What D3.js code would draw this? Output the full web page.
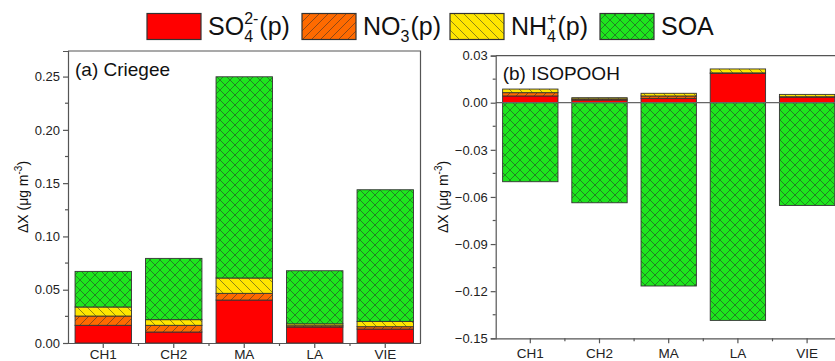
<!DOCTYPE html>
<html>
<head>
<meta charset="utf-8" />
<script src="https://d3js.org/d3.v7.min.js"></script>
<style>
  body { margin: 0; background: #fff; }
  svg { font-family: "Liberation Sans", Arial, sans-serif; }
</style>
</head>
<body>
<div id="chart"></div>
<script>
// categories and values
var sites = ["CH1", "CH2", "MA", "LA", "VIE"];

var criegeeSO4 = [0.0166, 0.0103, 0.0403, 0.0150, 0.0131];
var criegeeNO3 = [0.0087, 0.0063, 0.0063, 0.0012, 0.0022];
var criegeeNH4 = [0.0085, 0.0053, 0.0144, 0.0018, 0.0050];
var criegeeSOA = [0.0334, 0.0575, 0.1888, 0.0498, 0.1235];

var isoSO4 = [0.0043, 0.0017, 0.0028, 0.0187, 0.0036];
var isoNO3 = [0.0021, 0.0007, 0.0015, 0.0003, 0.0002];
var isoNH4 = [0.0023, 0.0008, 0.0017, 0.0025, 0.0015];
var isoSOA = [-0.0503, -0.0637, -0.1167, -0.1386, -0.0654];

var leftTicks = [0, 0.05, 0.10, 0.15, 0.20, 0.25];
var rightTicks = [0.03, 0, -0.03, -0.06, -0.09, -0.12, -0.15];

var species = [
  {key: "so4", fill: "#ff0000", main: "SO", sub: "4", sup: "2-"},
  {key: "no3", fill: "url(#hatchNO3)", main: "NO", sub: "3", sup: "-"},
  {key: "nh4", fill: "url(#hatchNH4)", main: "NH", sub: "4", sup: "+"},
  {key: "soa", fill: "url(#hatchSOA)", main: "SOA", sub: "", sup: ""}
];
// legend swatch left edges
var legendX = [147, 302, 450, 600];

var width = 835, height = 361;
var axisColor = "#555";

var svg = d3.select("#chart").append("svg")
    .attr("width", width)
    .attr("height", height);

// hatch patterns
var defs = svg.append("defs");
function hatch(id, bg, size, dirs) {
  var p = defs.append("pattern")
      .attr("id", id)
      .attr("patternUnits", "userSpaceOnUse")
      .attr("width", size).attr("height", size);
  p.append("rect").attr("width", size).attr("height", size).attr("fill", bg);
  var s = size;
  dirs.forEach(function(d) {
    var path = d == "/"
      ? "M0," + s + "L" + s + ",0M" + (-s / 2) + "," + (s / 2) + "L" + (s / 2) + "," + (-s / 2) + "M" + (s / 2) + "," + (3 * s / 2) + "L" + (3 * s / 2) + "," + (s / 2)
      : "M0,0L" + s + "," + s + "M" + (-s / 2) + "," + (s / 2) + "L" + (s / 2) + "," + (3 * s / 2) + "M" + (s / 2) + "," + (-s / 2) + "L" + (3 * s / 2) + "," + (s / 2);
    p.append("path").attr("d", path)
      .attr("stroke", "#2a2a2a").attr("stroke-width", 0.7)
      .attr("stroke-opacity", 0.75).attr("fill", "none");
  });
}
hatch("hatchNO3", "#ff6a00", 9, ["/"]);
hatch("hatchNH4", "#ffe600", 10, ["\\"]);
hatch("hatchSOA", "#1ee61e", 10, ["/", "\\"]);

// build stacks for one panel
function stacks(so4, no3, nh4, soa) {
  var out = [];
  sites.forEach(function(s, i) {
    var base = 0;
    [so4, no3, nh4].forEach(function(arr, k) {
      out.push({site: s, key: species[k].key, y0: base, y1: base + arr[i]});
      base += arr[i];
    });
    if (soa[i] >= 0) out.push({site: s, key: "soa", y0: base, y1: base + soa[i]});
    else out.push({site: s, key: "soa", y0: soa[i], y1: 0});
  });
  return out;
}

function panel(opt) {
  var g = svg.append("g");
  var x = d3.scaleBand().domain(sites)
      .range([opt.left, opt.left + opt.step * sites.length])
      .paddingInner(0.2).paddingOuter(0.1);
  var y = d3.scaleLinear().domain(opt.domain).range([opt.bottom, opt.top]);

  var fills = {};
  species.forEach(function(s) { fills[s.key] = s.fill; });

  // bars
  g.selectAll("rect.bar")
    .data(opt.data)
    .enter().append("rect")
      .attr("class", "bar")
      .attr("x", function(d) { return x(d.site); })
      .attr("width", x.bandwidth())
      .attr("y", function(d) { return y(d.y1); })
      .attr("height", function(d) { return Math.max(0, y(d.y0) - y(d.y1)); })
      .attr("fill", function(d) { return fills[d.key]; })
      .attr("stroke", "#333")
      .attr("stroke-width", 0.9);

  // zero line
  if (opt.domain[0] < 0) {
    g.append("line")
      .attr("x1", opt.left).attr("x2", width)
      .attr("y1", y(0)).attr("y2", y(0))
      .attr("stroke", "#666").attr("stroke-width", 1.2);
  }

  // frame (top and right)
  var right = opt.left + opt.step * sites.length;
  g.append("path")
    .attr("d", "M" + opt.left + "," + opt.top + "H" + right + "V" + opt.bottom)
    .attr("fill", "none").attr("stroke", axisColor).attr("stroke-width", 1.2);

  // y axis
  var yAxis = g.append("g")
    .attr("transform", "translate(" + opt.left + ",0)")
    .call(d3.axisLeft(y).tickValues(opt.ticks).tickFormat(d3.format(".2f")).tickSize(5).tickPadding(3));
  yAxis.select(".domain").attr("stroke", axisColor).attr("stroke-width", 1.2);
  yAxis.selectAll(".tick line").attr("stroke", axisColor).attr("stroke-width", 1.2);
  yAxis.selectAll("text").attr("font-size", 13).attr("fill", "#222")
    .attr("font-family", "Liberation Sans, Arial, sans-serif");
  g.selectAll(".yminor")
    .data(opt.minor.filter(function(v) { return v >= opt.domain[0] && v <= opt.domain[1]; }))
    .enter().append("line")
      .attr("x1", opt.left - 3).attr("x2", opt.left)
      .attr("y1", function(d) { return y(d); }).attr("y2", function(d) { return y(d); })
      .attr("stroke", axisColor).attr("stroke-width", 1.2);

  // x axis
  var xAxis = g.append("g")
    .attr("transform", "translate(0," + opt.bottom + ")")
    .call(d3.axisBottom(x).tickSize(5).tickPadding(opt.xPad).tickSizeOuter(0));
  xAxis.select(".domain").attr("stroke", axisColor).attr("stroke-width", 1.2);
  xAxis.selectAll(".tick line").attr("stroke", axisColor).attr("stroke-width", 1.2);
  xAxis.selectAll("text").attr("font-size", 13.5).attr("fill", "#222")
    .attr("font-family", "Liberation Sans, Arial, sans-serif");
  g.selectAll(".xminor")
    .data(sites.slice(1))
    .enter().append("line")
      .attr("x1", function(d) { return x(d) - x.step() * 0.1; })
      .attr("x2", function(d) { return x(d) - x.step() * 0.1; })
      .attr("y1", opt.bottom).attr("y2", opt.bottom + 3)
      .attr("stroke", axisColor).attr("stroke-width", 1.2);

  // panel label
  g.append("text")
    .attr("x", opt.left + 7).attr("y", opt.top + opt.labelDy)
    .attr("font-size", 19).attr("fill", "#111")
    .text(opt.label);

  // y axis title
  var t = g.append("text")
    .attr("transform", "translate(" + opt.titleX + "," + ((opt.top + opt.bottom) / 2) + ") rotate(-90)")
    .attr("text-anchor", "middle")
    .attr("font-size", 14).attr("fill", "#111");
  t.append("tspan").text("\u0394X (\u03bcg m");
  t.append("tspan").attr("font-size", 10).attr("dy", -6).text("-3");
  t.append("tspan").attr("dy", 6).text(")");
}

panel({
  left: 68, step: 70.5, top: 51, bottom: 343,
  domain: [0, 0.274], ticks: leftTicks,
  minor: d3.range(0.025, 0.3, 0.05),
  data: stacks(criegeeSO4, criegeeNO3, criegeeNH4, criegeeSOA),
  label: "(a) Criegee", labelDy: 25, titleX: 28, xPad: 1.5
});

panel({
  left: 495.7, step: 69.2, top: 55.6, bottom: 338.3,
  domain: [-0.15, 0.03], ticks: rightTicks,
  minor: d3.range(-0.135, 0.03, 0.03),
  data: stacks(isoSO4, isoNO3, isoNH4, isoSOA),
  label: "(b) ISOPOOH", labelDy: 24, titleX: 448, xPad: 5
});

// legend
species.forEach(function(s, i) {
  var lx = legendX[i];
  svg.append("rect")
    .attr("x", lx).attr("y", 13.5).attr("width", 54).attr("height", 26)
    .attr("fill", s.fill).attr("stroke", "#333").attr("stroke-width", 1.2);
  var t = svg.append("text")
    .attr("x", lx + 61).attr("y", 35)
    .attr("font-size", 25).attr("fill", "#111");
  t.append("tspan").text(s.main);
  if (s.sub) {
    // subscript and superscript stacked at the same x
    var sb = t.append("tspan").attr("font-size", 16).attr("dy", 7).text(s.sub);
    var sw = sb.node().getComputedTextLength();
    var sp = t.append("tspan").attr("font-size", 16).attr("dy", -18).attr("dx", -sw).text(s.sup);
    var pw = sp.node().getComputedTextLength();
    t.append("tspan").attr("dy", 11).attr("dx", Math.max(0, sw - pw) + 1).text("(p)");
  }
});
</script>
</body>
</html>
